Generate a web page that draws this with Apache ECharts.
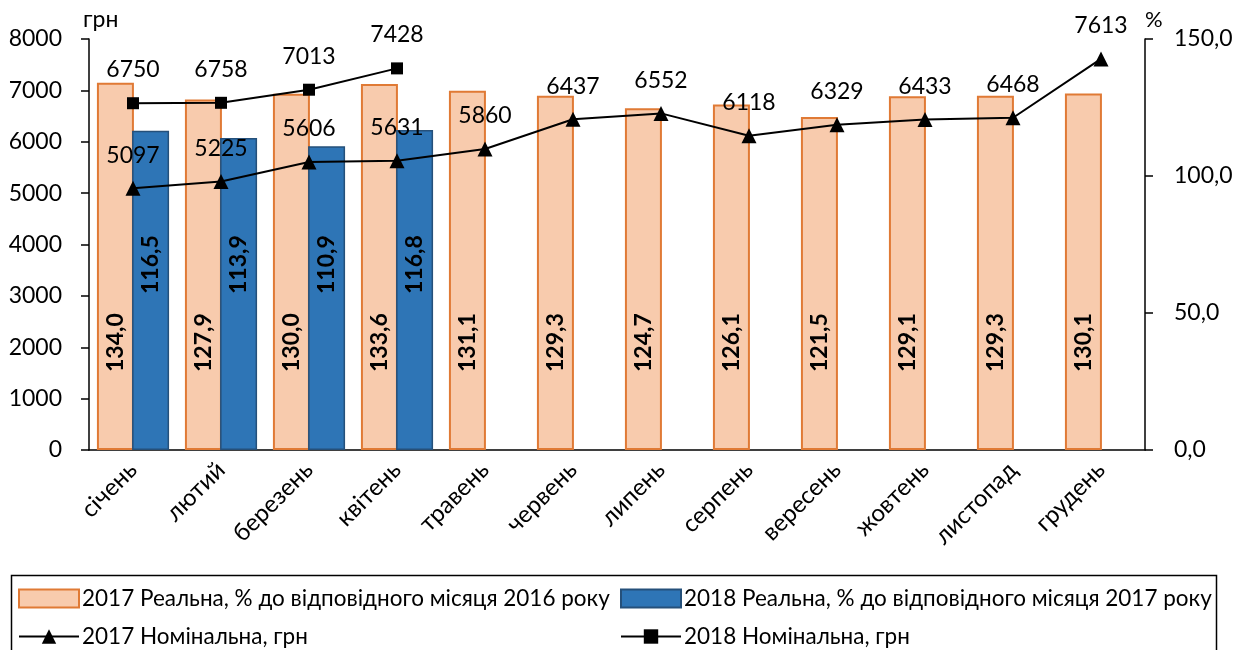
<!DOCTYPE html>
<html><head><meta charset="utf-8">
<script src="https://cdn.jsdelivr.net/npm/echarts@6/dist/echarts.min.js"></script>
<style>html,body{margin:0;padding:0;background:#fff}#c{width:1244px;height:650px}</style>
</head><body><div id="c"></div>
<script>
const months = ['січень','лютий','березень','квітень','травень','червень','липень','серпень','вересень','жовтень','листопад','грудень'];
const real2017 = [134.0,127.9,130.0,133.6,131.1,129.3,124.7,126.1,121.5,129.1,129.3,130.1];
const real2018 = [116.5,113.9,110.9,116.8];
const nominal2017 = [5097,5225,5606,5631,5860,6437,6552,6118,6329,6433,6468,7613];
const nominal2018 = [6750,6758,7013,7428];
const seriesNames = [
  '2017 Реальна, % до відповідного місяця 2016 року',
  '2018 Реальна, % до відповідного місяця 2017 року',
  '2017 Номінальна, грн',
  '2018 Номінальна, грн'
];
const leftTicks = {min:0, max:8000, interval:1000};
const rightTicks = {min:0, max:150, interval:50};

const FONT = 'Lato';
const chart = echarts.init(document.getElementById('c'), null, {renderer:'canvas'});
const fmt1 = v => Number(v).toFixed(1).replace('.', ',');
const legendBase = {itemWidth:60, itemHeight:18, itemGap:0, padding:0,
  textStyle:{fontFamily:FONT, fontSize:22.5, color:'#000', padding:[0,0,0,-2]}, selectedMode:false};

chart.setOption({
  animation:false,
  textStyle:{fontFamily:FONT},
  grid:{left:89, right:99, top:39, bottom:200, containLabel:false},
  xAxis:{
    type:'category', data:months,
    axisLine:{lineStyle:{color:'#000', width:1.5}},
    axisTick:{length:8, lineStyle:{color:'#000', width:1.5}},
    axisLabel:{rotate:45, fontSize:24, color:'#000', margin:16, fontFamily:FONT, interval:0}
  },
  yAxis:[
    {type:'value', ...leftTicks, position:'left',
     name:'грн', nameLocation:'end', nameGap:8,
     nameTextStyle:{fontSize:23, color:'#000', align:'left', padding:[0,0,0,-6], fontFamily:FONT},
     axisLine:{show:true, lineStyle:{color:'#000', width:1.5}},
     axisTick:{show:true, length:8, lineStyle:{color:'#000', width:1.5}},
     axisLabel:{fontSize:23, color:'#000', margin:27, fontFamily:FONT, formatter:v=>String(v)},
     splitLine:{show:false}},
    {type:'value', ...rightTicks, position:'right',
     name:'%', nameLocation:'end', nameGap:8,
     nameTextStyle:{fontSize:22, color:'#000', align:'left', padding:[0,0,0,0], fontFamily:FONT},
     axisLine:{show:true, lineStyle:{color:'#000', width:1.5}},
     axisTick:{show:true, length:8, lineStyle:{color:'#000', width:1.5}},
     axisLabel:{fontSize:23, color:'#000', margin:29, fontFamily:FONT, formatter:fmt1},
     splitLine:{show:false}}
  ],
  legend:[
    Object.assign({}, legendBase, {data:[{name:seriesNames[0], icon:'rect'}], left:18, top:587}),
    Object.assign({}, legendBase, {data:[{name:seriesNames[1], icon:'rect'}], left:620, top:587}),
    Object.assign({}, legendBase, {data:[seriesNames[2]], left:18, top:625}),
    Object.assign({}, legendBase, {data:[seriesNames[3]], left:620, top:625})
  ],
  graphic:[{type:'rect', left:9, top:573, z:100, silent:true,
    shape:{width:1205, height:100}, style:{fill:'none', stroke:'#000', lineWidth:1.5}}],
  series:[
    {name:seriesNames[0], type:'bar', yAxisIndex:1, data:real2017, barWidth:37, barGap:'-5%',
     itemStyle:{color:'#F8CBAD', borderColor:'#E07A35', borderWidth:2},
     label:{show:true, position:'insideBottom', rotate:90, align:'left', verticalAlign:'middle',
       distance:78, fontWeight:'bold', fontSize:23, color:'#000', fontFamily:FONT,
       formatter:p=>fmt1(p.value)}},
    {name:seriesNames[1], type:'bar', yAxisIndex:1, data:real2018, barWidth:37, barGap:'-5%',
     itemStyle:{color:'#2E75B6', borderColor:'#25507A', borderWidth:1.5},
     label:{show:true, position:'insideBottom', rotate:90, align:'left', verticalAlign:'middle',
       distance:156, fontWeight:'bold', fontSize:23, color:'#000', fontFamily:FONT,
       formatter:p=>fmt1(p.value)}},
    {name:seriesNames[2], type:'line', yAxisIndex:0, data:nominal2017, z:5,
     symbol:'triangle', symbolSize:15, color:'#000',
     lineStyle:{color:'#000', width:2}, itemStyle:{color:'#000'},
     label:{show:true, position:'top', distance:14, fontSize:23, color:'#000', fontFamily:FONT}},
    {name:seriesNames[3], type:'line', yAxisIndex:0, data:nominal2018, z:5,
     symbol:'rect', symbolSize:12, color:'#000',
     lineStyle:{color:'#000', width:2}, itemStyle:{color:'#000'},
     label:{show:true, position:'top', distance:16, fontSize:23, color:'#000', fontFamily:FONT}}
  ]
});
</script></body></html>
